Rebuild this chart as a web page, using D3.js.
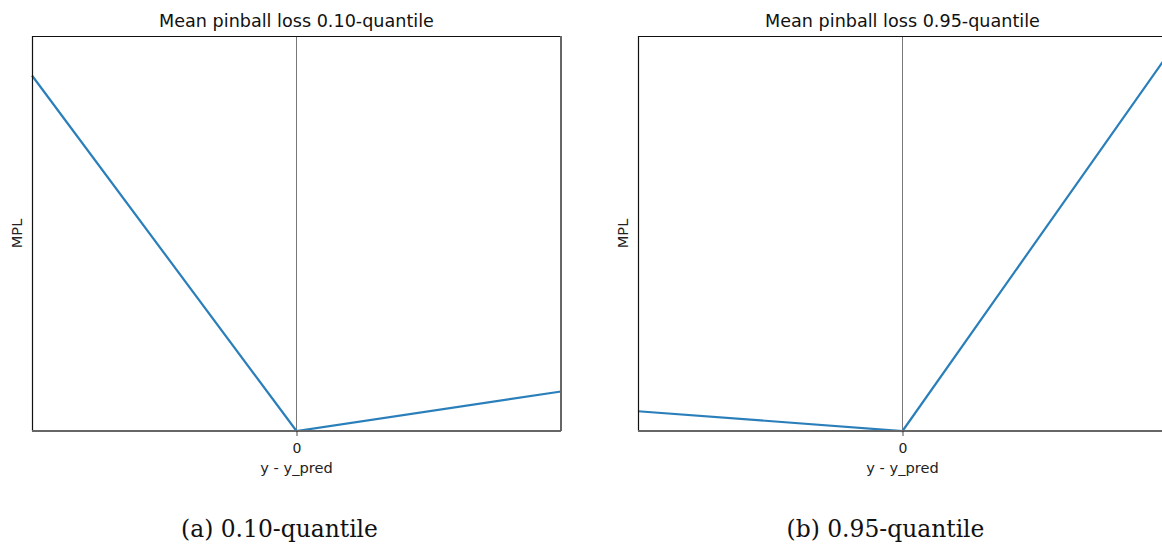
<!DOCTYPE html>
<html>
<head>
<meta charset="utf-8">
<script src="https://cdn.jsdelivr.net/npm/d3@7"></script>
<style>
  body { margin: 0; background: #fff; }
  svg { display: block; }
</style>
</head>
<body>
<svg width="1162" height="544"></svg>
<script>
const svg = d3.select("svg");

// residual y - y_pred (sampled at the ends and at zero)
const residuals = [-1, 0, 1];
const lossQ10 = [0.9, 0, 0.1];
const lossQ95 = [0.05, 0, 0.95];
const titles = ["Mean pinball loss 0.10-quantile", "Mean pinball loss 0.95-quantile"];
const captions = ["(a) 0.10-quantile", "(b) 0.95-quantile"];
const xTicks = [0];

const panels = [
  { left: 32, loss: lossQ10, title: titles[0], caption: captions[0] },
  { left: 638, loss: lossQ95, title: titles[1], caption: captions[1] }
];

const innerWidth = 529;
const marginTop = 36;
const innerHeight = 395;

panels.forEach(p => {
  const g = svg.append("g").attr("transform", `translate(${p.left},${marginTop})`);

  const x = d3.scaleLinear().domain([-1, 1]).range([0, innerWidth]);
  const y = d3.scaleLinear().domain([0, 1]).range([innerHeight, 0]);

  // vertical reference line at zero
  g.append("line")
    .attr("x1", x(0)).attr("x2", x(0))
    .attr("y1", 0).attr("y2", innerHeight)
    .attr("stroke", "#555")
    .attr("stroke-width", 0.8);

  const line = d3.line().x((d, i) => x(residuals[i])).y(d => y(d));
  g.append("path")
    .datum(p.loss)
    .attr("d", line)
    .attr("fill", "none")
    .attr("stroke", "#2a7fba")
    .attr("stroke-width", 2.2);

  // spines: top/left dark, right/bottom grey and heavier
  g.append("line").attr("x1", 0).attr("x2", innerWidth).attr("y1", 0.5).attr("y2", 0.5)
    .attr("stroke", "#111").attr("stroke-width", 1.2);
  g.append("line").attr("x1", 0.5).attr("x2", 0.5).attr("y1", 0).attr("y2", innerHeight)
    .attr("stroke", "#111").attr("stroke-width", 1.2);
  g.append("line").attr("x1", innerWidth).attr("x2", innerWidth).attr("y1", 0).attr("y2", innerHeight)
    .attr("stroke", "#666").attr("stroke-width", 2);
  g.append("line").attr("x1", 0).attr("x2", innerWidth).attr("y1", innerHeight).attr("y2", innerHeight)
    .attr("stroke", "#666").attr("stroke-width", 2);

  const xAxis = g.append("g")
    .attr("transform", `translate(0,${innerHeight})`)
    .call(d3.axisBottom(x).tickValues(xTicks).tickFormat(d3.format("d")).tickSize(5).tickPadding(7));
  xAxis.select(".domain").remove();
  xAxis.selectAll("line").attr("stroke", "#222").attr("stroke-width", 0.8);
  xAxis.selectAll("text")
    .attr("fill", "#222")
    .style("font-family", "DejaVu Sans")
    .style("font-size", "14px");

  g.append("text")
    .attr("x", innerWidth / 2)
    .attr("y", -9)
    .attr("text-anchor", "middle")
    .attr("fill", "#111")
    .style("font-family", "DejaVu Sans")
    .style("font-size", "17.6px")
    .text(p.title);

  g.append("text")
    .attr("x", x(0))
    .attr("y", innerHeight + 42)
    .attr("text-anchor", "middle")
    .attr("fill", "#222")
    .style("font-family", "DejaVu Sans")
    .style("font-size", "14.6px")
    .text("y - y_pred");

  g.append("text")
    .attr("transform", `translate(-10,${innerHeight / 2}) rotate(-90)`)
    .attr("text-anchor", "middle")
    .attr("fill", "#222")
    .style("font-family", "DejaVu Sans")
    .style("font-size", "14.6px")
    .text("MPL");

  // subfigure caption, centred on the whole subfigure (label included)
  svg.append("text")
    .attr("x", p.left + x(0) - 17)
    .attr("y", 537)
    .attr("text-anchor", "middle")
    .attr("fill", "#111")
    .style("font-family", "DejaVu Serif")
    .style("font-size", "23.4px")
    .text(p.caption);
});
</script>
</body>
</html>
